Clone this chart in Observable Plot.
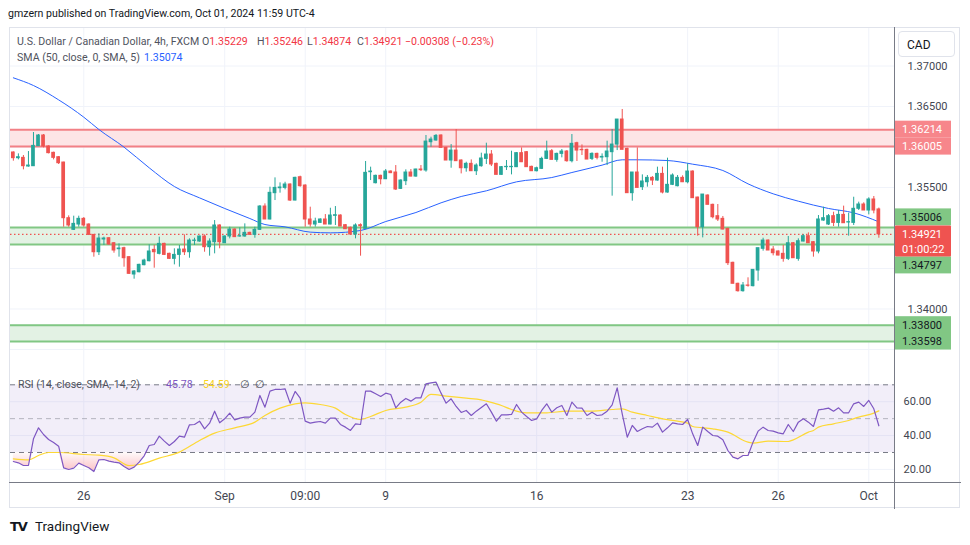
<!DOCTYPE html>
<html><head><meta charset="utf-8">
<script src="https://cdn.jsdelivr.net/npm/d3@7"></script>
<script src="https://cdn.jsdelivr.net/npm/@observablehq/plot@0.6"></script>
<style>
body{margin:0;background:#fff;}
#root{position:relative;width:970px;height:545px;overflow:hidden;font-family:Roboto,"Noto Sans",sans-serif;color:#131722;background:#fff;}
.abs{position:absolute;white-space:nowrap;line-height:1;}
#root svg{position:absolute;left:0;}
</style></head><body><div id="root"></div>
<script>
// ---------- DATA (USD/CAD 4h, FXCM) ----------
const open = [
1.35932,1.35862,1.35866,1.35759,1.35763,1.36010,1.36142,1.36006,1.35928,1.35874,
1.35808,1.35121,1.34977,1.35043,1.35113,1.35043,1.34915,1.34701,1.34858,1.34874,
1.34812,1.34738,1.34751,1.34640,1.34426,1.34454,1.34541,1.34590,1.34730,1.34681,
1.34804,1.34681,1.34619,1.34668,1.34734,1.34701,1.34841,1.34833,1.34895,1.34763,
1.34825,1.35031,1.34812,1.34895,1.34981,1.34895,1.34895,1.34940,1.34915,1.34977,
1.35265,1.35105,1.35430,1.35491,1.35495,1.35537,1.35339,1.35627,1.35524,1.35105,
1.35043,1.35063,1.35105,1.35043,1.35150,1.35154,1.35035,1.35002,1.34919,1.35035,
1.34989,1.35689,1.35553,1.35644,1.35602,1.35697,1.35685,1.35483,1.35578,1.35685,
1.35635,1.35722,1.35710,1.36059,1.36080,1.36142,1.35989,1.35833,1.35956,1.35833,
1.35738,1.35792,1.35701,1.35763,1.35853,1.35907,1.35792,1.35656,1.35751,1.35751,
1.35751,1.35924,1.35936,1.35755,1.35701,1.35730,1.35853,1.35948,1.35841,1.35915,
1.35944,1.35825,1.36047,1.35965,1.35965,1.35853,1.35915,1.35870,1.35874,1.35936,
1.36030,1.36339,1.35977,1.35430,1.35685,1.35504,1.35565,1.35619,1.35586,1.35668,
1.35438,1.35533,1.35516,1.35619,1.35565,1.35697,1.35376,1.35010,1.35401,1.35286,
1.35146,1.35113,1.34989,1.34570,1.34311,1.34220,1.34290,1.34282,1.34475,1.34743,
1.34845,1.34734,1.34710,1.34681,1.34619,1.34812,1.34619,1.34833,1.34899,1.34825,
1.34710,1.35092,1.35043,1.35146,1.35063,1.35162,1.35068,1.35063,1.35237,1.35290,
1.35216,1.35352,1.35229];
const high = [
1.35940,1.35915,1.35895,1.35944,1.36179,1.36154,1.36154,1.36014,1.35936,1.35882,
1.35812,1.35150,1.35146,1.35146,1.35129,1.35051,1.34919,1.34928,1.34887,1.34882,
1.34821,1.34804,1.34763,1.34648,1.34475,1.34553,1.34615,1.34792,1.34784,1.34887,
1.34812,1.34689,1.34743,1.34784,1.34915,1.34866,1.34874,1.34899,1.34915,1.34866,
1.35092,1.35039,1.34903,1.35010,1.34989,1.35002,1.35051,1.34948,1.35010,1.35277,
1.35298,1.35504,1.35619,1.35557,1.35565,1.35545,1.35627,1.35640,1.35533,1.35257,
1.35121,1.35113,1.35166,1.35244,1.35265,1.35162,1.35043,1.35010,1.35051,1.35051,
1.35821,1.35751,1.35652,1.35652,1.35722,1.35705,1.35771,1.35594,1.35718,1.35722,
1.35726,1.35771,1.36142,1.36121,1.36154,1.36150,1.35997,1.36030,1.36216,1.35841,
1.35812,1.35841,1.35792,1.35924,1.36047,1.35956,1.35800,1.35759,1.35833,1.35948,
1.35932,1.35989,1.35944,1.35763,1.35751,1.35874,1.36072,1.35969,1.35924,1.35969,
1.35956,1.36154,1.36059,1.36026,1.35973,1.35928,1.35924,1.35915,1.36072,1.36216,
1.36339,1.36463,1.35985,1.35685,1.35989,1.35656,1.35648,1.35635,1.35751,1.35751,
1.35862,1.35668,1.35648,1.35644,1.35792,1.35705,1.35380,1.35413,1.35409,1.35294,
1.35290,1.35142,1.34998,1.34578,1.34319,1.34327,1.34385,1.34483,1.34751,1.34874,
1.34854,1.34771,1.34718,1.34784,1.34895,1.34821,1.34866,1.34919,1.34940,1.34833,
1.35154,1.35257,1.35166,1.35195,1.35216,1.35270,1.35183,1.35380,1.35319,1.35311,
1.35373,1.35389,1.35246];
const low = [
1.35825,1.35841,1.35718,1.35751,1.35759,1.36006,1.35989,1.35915,1.35841,1.35784,
1.35010,1.35010,1.34969,1.35010,1.35010,1.34907,1.34640,1.34660,1.34784,1.34788,
1.34689,1.34640,1.34516,1.34426,1.34368,1.34446,1.34533,1.34582,1.34504,1.34668,
1.34660,1.34611,1.34545,1.34516,1.34660,1.34627,1.34784,1.34825,1.34701,1.34652,
1.34681,1.34743,1.34808,1.34866,1.34887,1.34887,1.34887,1.34911,1.34874,1.34969,
1.35105,1.35100,1.35339,1.35430,1.35471,1.35327,1.35335,1.35504,1.35010,1.35010,
1.35010,1.35059,1.35043,1.35039,1.35031,1.35018,1.34981,1.34915,1.34866,1.34652,
1.34981,1.35586,1.35545,1.35533,1.35598,1.35672,1.35463,1.35475,1.35524,1.35631,
1.35627,1.35697,1.35689,1.35997,1.36072,1.35989,1.35833,1.35738,1.35825,1.35668,
1.35689,1.35701,1.35648,1.35751,1.35784,1.35759,1.35656,1.35652,1.35710,1.35656,
1.35746,1.35808,1.35751,1.35701,1.35693,1.35722,1.35845,1.35841,1.35812,1.35866,
1.35812,1.35804,1.35821,1.35895,1.35845,1.35833,1.35841,1.35812,1.35771,1.35393,
1.35956,1.35965,1.35430,1.35331,1.35495,1.35463,1.35504,1.35524,1.35578,1.35421,
1.35430,1.35524,1.35508,1.35561,1.35545,1.35368,1.34899,1.34878,1.35286,1.35113,
1.35080,1.34977,1.34537,1.34311,1.34208,1.34208,1.34269,1.34273,1.34343,1.34714,
1.34722,1.34656,1.34656,1.34578,1.34598,1.34627,1.34590,1.34829,1.34812,1.34640,
1.34681,1.35084,1.35031,1.35018,1.35010,1.35059,1.34899,1.35031,1.35216,1.35216,
1.35162,1.35175,1.34874];
const close = [
1.35862,1.35874,1.35763,1.35771,1.36014,1.36142,1.36006,1.35924,1.35866,1.35800,
1.35121,1.35031,1.35051,1.35113,1.35031,1.34915,1.34701,1.34870,1.34870,1.34796,
1.34722,1.34747,1.34627,1.34434,1.34463,1.34545,1.34598,1.34710,1.34701,1.34804,
1.34668,1.34619,1.34668,1.34734,1.34701,1.34845,1.34845,1.34895,1.34763,1.34833,
1.35031,1.34825,1.34895,1.34981,1.34887,1.34899,1.34940,1.34915,1.34977,1.35265,
1.35105,1.35434,1.35495,1.35500,1.35537,1.35339,1.35619,1.35516,1.35105,1.35043,
1.35080,1.35105,1.35043,1.35154,1.35158,1.35018,1.34985,1.34919,1.35031,1.35022,
1.35681,1.35697,1.35644,1.35602,1.35697,1.35677,1.35475,1.35586,1.35685,1.35635,
1.35722,1.35714,1.36067,1.36092,1.36137,1.35989,1.35833,1.35956,1.35825,1.35738,
1.35792,1.35701,1.35771,1.35858,1.35907,1.35784,1.35656,1.35751,1.35755,1.35755,
1.35924,1.35812,1.35751,1.35701,1.35738,1.35853,1.35944,1.35841,1.35915,1.35944,
1.35825,1.36039,1.35956,1.35960,1.35845,1.35915,1.35866,1.35878,1.35944,1.36030,
1.36339,1.35965,1.35430,1.35685,1.35495,1.35574,1.35619,1.35586,1.35668,1.35438,
1.35533,1.35648,1.35619,1.35565,1.35697,1.35368,1.35010,1.35413,1.35286,1.35133,
1.35105,1.34981,1.34566,1.34311,1.34220,1.34290,1.34286,1.34483,1.34751,1.34845,
1.34722,1.34689,1.34660,1.34619,1.34812,1.34627,1.34837,1.34899,1.34812,1.34710,
1.35105,1.35121,1.35146,1.35063,1.35162,1.35059,1.35072,1.35237,1.35290,1.35216,
1.35352,1.35216,1.34921];

// SMA(50) sampled along the bars
const smaIdx = [0,4,9,14,17,22,27,32,37,42,47,50,54,59,63,69,74,80,85,89,94,100,107,111,117,121,124,130,135,141,146,151,156,162,167,172];
const smaVal = [1.36854,1.36759,1.36582,1.36368,1.36216,1.35998,1.35743,1.35512,1.35372,1.35241,1.35117,1.35043,1.35014,1.34949,1.34940,1.34969,1.35080,1.35191,1.35311,1.35389,1.35459,1.35570,1.35623,1.35685,1.35776,1.35842,1.35842,1.35833,1.35788,1.35710,1.35545,1.35422,1.35331,1.35241,1.35187,1.35076];

// RSI(14)
const rsi = [
24.68,23.89,22.32,22.32,38.08,44.58,40.64,37.69,35.91,33.74,
20.94,19.95,20.74,23.70,22.32,20.94,18.77,25.67,25.86,24.88,
24.29,23.89,21.73,19.95,21.33,24.29,28.03,34.14,34.73,39.66,
36.70,34.14,36.50,39.66,39.06,46.36,46.55,48.52,43.99,47.34,
54.43,47.54,49.90,53.25,49.31,50.30,50.89,50.89,53.84,63.69,
56.80,66.26,67.24,67.24,67.64,59.16,66.06,62.12,48.52,47.34,
47.93,48.33,47.34,50.30,50.30,46.55,44.98,43.01,46.95,46.55,
66.26,66.26,64.68,63.10,65.07,64.29,56.40,59.75,61.92,60.35,
62.32,62.32,70.59,71.18,71.58,65.07,59.16,61.72,57.19,53.65,
54.83,51.87,54.43,56.60,58.77,53.84,48.52,52.27,52.27,52.46,
58.37,53.84,51.28,48.92,49.90,54.83,58.77,53.84,56.40,57.78,
51.87,59.75,56.40,56.21,51.87,53.84,51.87,52.27,54.43,58.18,
68.23,52.86,39.06,45.96,42.41,43.99,45.37,44.98,47.34,42.02,
44.58,47.54,46.95,46.55,49.51,41.03,34.14,44.98,42.41,40.05,
39.66,37.49,31.18,27.24,26.26,28.23,28.23,36.11,42.61,44.98,
43.01,42.61,41.63,41.03,46.55,42.41,47.93,49.90,47.93,45.37,
55.22,55.62,56.21,54.43,56.40,53.45,53.45,58.77,59.75,57.19,
60.74,55.81,45.78];
// RSI-based SMA(14), sampled
const rsiMaIdx = [0,3,5,7,9,14,17,20,23,25,29,33,37,40,44,48,50,53,56,58,61,64,66,69,71,74,78,81,83,86,90,93,94,97,99,102,106,110,115,119,121,123,126,129,132,134,135,139,142,146,147,150,154,155,158,159,160,163,166,168,171,172];
const rsiMaVal = [26.26,25.67,28.23,30.0,30.0,28.82,28.43,26.85,22.32,22.91,26.65,30.20,37.10,41.43,44.58,47.93,51.87,56.21,58.77,59.36,58.37,56.21,52.46,49.51,51.28,54.83,56.80,59.75,64.29,63.30,62.12,61.13,60.35,57.78,55.42,53.45,53.45,54.43,54.43,55.42,55.81,53.84,51.87,49.90,48.52,47.34,45.37,43.99,42.02,36.11,35.52,36.70,36.50,37.49,42.02,43.01,44.98,46.95,48.92,50.89,53.25,54.59];

// Zones (drawn rectangles)
const zoneHi = [1.36214, 1.35006, 1.33800];
const zoneLo = [1.36005, 1.34797, 1.33598];
const zoneKind = ["red", "green", "green"];

// Axis ticks / labels
const priceGrid = [1.370, 1.365, 1.360, 1.355, 1.350, 1.345, 1.340, 1.335];
const priceLabels = [1.370, 1.365, 1.355, 1.340];   // the others sit under the price tags
const rsiTicks = [20, 40, 60];
const timeTickIdx = [14, 42, 58, 74, 104, 134, 152, 170];
const timeTickLabel = ["26", "Sep", "09:00", "9", "16", "23", "26", "Oct"];
const lastClose = 1.34921, countdown = "01:00:22";

// ---------- BUILD ----------
const root = document.getElementById("root");
const UP = "#26a69a", DN = "#ef5350";
const ZC = {red: {line: "#f28086", fill: "#fde5e6", tag: "#f7868b", txt: "#ffffff"},
            green: {line: "#81c784", fill: "#e3f2e4", tag: "#81c784", txt: "#131722"}};
const candles = open.map((o, i) => ({i, o, h: high[i], l: low[i], c: close[i], col: close[i] >= o ? UP : DN}));
const sma = smaIdx.map((i, k) => ({i, v: smaVal[k]}));
const rsiData = rsi.map((v, i) => ({i, v}));
const rsiMa = rsiMaIdx.map((i, k) => ({i, v: rsiMaVal[k]}));
const zones = zoneHi.map((hi, k) => ({hi, lo: zoneLo[k], ...ZC[zoneKind[k]]}));
const zoneLines = zones.flatMap(z => [{v: z.hi, c: z.line}, {v: z.lo, c: z.line}]);
const tickName = new Map(timeTickIdx.map((d, k) => [d, timeTickLabel[k]]));

const xDomain = [-0.566, 175.11];
const GRID = "#f0f3fa";
const FONT = "Roboto, 'Noto Sans', sans-serif";

const pricePlot = Plot.plot({
  width: 970, height: 342, marginLeft: 10, marginRight: 76, marginTop: 0, marginBottom: 0,
  style: {background: "transparent", fontFamily: FONT, fontSize: "11px", color: "#434651"},
  x: {domain: xDomain, axis: null},
  y: {domain: [1.332407, 1.37463]},
  color: {type: "identity"},
  marks: [
    Plot.gridX(timeTickIdx, {stroke: GRID, strokeOpacity: 1}),
    Plot.gridY(priceGrid, {stroke: GRID, strokeOpacity: 1}),
    Plot.rect(zones, {y1: "lo", y2: "hi", fill: "fill"}),
    Plot.ruleY(zoneLines, {y: "v", stroke: "c", strokeWidth: 2}),
    Plot.ruleY([lastClose], {stroke: DN, strokeWidth: 1.2, strokeDasharray: "1.5,2.5"}),
    Plot.line(sma, {x: "i", y: "v", stroke: "#2962ff", strokeWidth: 1, curve: "monotone-x"}),
    Plot.ruleX(candles, {x: "i", y1: "l", y2: "h", stroke: "col", strokeWidth: 1}),
    Plot.rect(candles, {x1: d => d.i - 0.37, x2: d => d.i + 0.37, y1: "o", y2: "c", fill: "col", insetTop: -0.5, insetBottom: -0.5}),
    Plot.axisY(priceLabels, {anchor: "right", tickSize: 0, tickPadding: 13, tickFormat: d3.format(".5f"), label: null})
  ]
});
pricePlot.style.top = "28px";
root.appendChild(pricePlot);

// Price tags on the axis (positioned with the y scale)
{
  const ys = pricePlot.scale("y");
  const svg = d3.select(pricePlot);
  const g = svg.append("g").attr("font-family", FONT).attr("font-size", 11).attr("text-anchor", "start");
  const yc = ys.apply(lastClose);
  const lastTop = yc - 8.5, lastBot = yc + 22.5;
  const tags = [];
  zones.forEach(z => { tags.push({v: z.hi, bg: z.tag, fg: z.txt}); tags.push({v: z.lo, bg: z.tag, fg: z.txt}); });
  tags.forEach(t => {
    const y = ys.apply(t.v);
    let top = y - 8.5;
    if (top < lastBot && top + 17 > lastTop) top = (y < yc) ? lastTop - 17 : lastBot;
    g.append("rect").attr("x", 895).attr("y", top).attr("width", 56).attr("height", 17).attr("fill", t.bg);
    g.append("text").attr("x", 902).attr("y", top + 8.5).attr("dy", "0.35em").attr("fill", t.fg).text(d3.format(".5f")(t.v));
  });
  g.append("rect").attr("x", 895).attr("y", lastTop).attr("width", 56).attr("height", lastBot - lastTop).attr("fill", DN).attr("rx", 1);
  g.append("text").attr("x", 902).attr("y", yc).attr("dy", "0.35em").attr("fill", "#fff").text(d3.format(".5f")(lastClose));
  g.append("text").attr("x", 902).attr("y", yc + 15).attr("dy", "0.35em").attr("fill", "#fff").text(countdown);
}

const rsiPlot = Plot.plot({
  width: 970, height: 139, marginLeft: 10, marginRight: 76, marginTop: 0, marginBottom: 27,
  style: {background: "transparent", fontFamily: FONT, fontSize: "11px", color: "#434651"},
  x: {domain: xDomain, axis: null},
  y: {domain: [12.27, 78.45]},
  marks: [
    Plot.gridX(timeTickIdx, {stroke: GRID, strokeOpacity: 1}),
    Plot.gridY(rsiTicks, {stroke: GRID, strokeOpacity: 1}),
    Plot.rect([0], {y1: 30, y2: 70, fill: "#7e57c2", fillOpacity: 0.1}),
    Plot.ruleY([70, 30], {stroke: "#787b86", strokeDasharray: "5,4"}),
    Plot.ruleY([50], {stroke: "#787b86", strokeOpacity: 0.5, strokeDasharray: "5,4"}),
    Plot.areaY(rsiData, {x: "i", y1: d => Math.min(d.v, 30), y2: 30, fill: "url(#osGrad)"}),
    Plot.areaY(rsiData, {x: "i", y1: 70, y2: d => Math.max(d.v, 70), fill: "url(#obGrad)"}),
    Plot.line(rsiMa, {x: "i", y: "v", stroke: "#fdd835", strokeWidth: 1.2, curve: "monotone-x"}),
    Plot.line(rsiData, {x: "i", y: "v", stroke: "#7e57c2", strokeWidth: 1.2}),
    Plot.axisY(rsiTicks, {anchor: "right", tickSize: 0, tickPadding: 9, tickFormat: d3.format(".2f"), label: null}),
    Plot.axisX(timeTickIdx, {anchor: "bottom", tickSize: 0, tickPadding: 9, tickFormat: d => tickName.get(d), label: null, fontSize: 12})
  ]
});
rsiPlot.style.top = "370px";
root.appendChild(rsiPlot);
{
  const ys = rsiPlot.scale("y");
  const defs = d3.select(rsiPlot).insert("defs", ":first-child");
  const os = defs.append("linearGradient").attr("id", "osGrad").attr("gradientUnits", "userSpaceOnUse")
    .attr("x1", 0).attr("x2", 0).attr("y1", ys.apply(30)).attr("y2", ys.apply(17));
  os.append("stop").attr("offset", 0).attr("stop-color", "#f23645").attr("stop-opacity", 0.02);
  os.append("stop").attr("offset", 1).attr("stop-color", "#f23645").attr("stop-opacity", 0.35);
  const ob = defs.append("linearGradient").attr("id", "obGrad").attr("gradientUnits", "userSpaceOnUse")
    .attr("x1", 0).attr("x2", 0).attr("y1", ys.apply(70)).attr("y2", ys.apply(80));
  ob.append("stop").attr("offset", 0).attr("stop-color", "#089981").attr("stop-opacity", 0.05);
  ob.append("stop").attr("offset", 1).attr("stop-color", "#089981").attr("stop-opacity", 0.4);
}

// ---------- FRAME & TEXT ----------
function div(css, html) { const d = document.createElement("div"); d.className = "abs"; d.style.cssText = css; if (html) d.innerHTML = html; root.appendChild(d); return d; }
div("left:9px;top:27px;width:951px;height:481px;border:1px solid #e0e3eb;box-sizing:border-box;");
div("left:894px;top:27px;width:1px;height:482px;background:#787b86;");
div("left:9px;top:482px;width:952px;height:1px;background:#787b86;");
div("left:898px;top:31px;width:57px;height:26px;border:1px solid #e0e3eb;border-radius:4px;box-sizing:border-box;background:#fff;");
div("left:907px;top:39px;font-size:12px;color:#131722;", "CAD");

div("left:8px;top:9px;font-size:10.6px;color:#131722;", "gmzern published on TradingView.com, Oct 01, 2024 11:59 UTC-4");
const G = "#50535e", R = "#f23645", FS = "font-size:10.6px;";
div("left:17px;top:37px;" + FS + "color:" + G + ";", "U.S. Dollar / Canadian Dollar, 4h, FXCM");
div("left:202px;top:37px;" + FS + "color:" + G + ";", "O<span style='color:" + R + "'>1.35229</span>");
div("left:257px;top:37px;" + FS + "color:" + G + ";", "H<span style='color:" + R + "'>1.35246</span>");
div("left:307px;top:37px;" + FS + "color:" + G + ";", "L<span style='color:" + R + "'>1.34874</span>");
div("left:357px;top:37px;" + FS + "color:" + G + ";", "C<span style='color:" + R + "'>1.34921</span>");
div("left:405px;top:37px;" + FS + "color:" + R + ";", "−0.00308 (−0.23%)");
div("left:17px;top:53px;" + FS + "color:" + G + ";", "SMA (50, close, 0, SMA, 5)");
div("left:144px;top:53px;" + FS + "color:#2962ff;", "1.35074");

div("left:18px;top:380px;" + FS + "color:" + G + ";", "RSI (14, close, SMA, 14, 2)");
div("left:166px;top:380px;" + FS + "color:#7e57c2;", "45.78");
div("left:203px;top:380px;" + FS + "color:#f7d21e;", "54.59");
div("left:240px;top:380px;" + FS + "color:" + G + ";", "∅&nbsp;&nbsp;∅");

div("left:10px;top:520px;font-size:13px;font-weight:900;color:#131722;letter-spacing:-1px;font-family:'DejaVu Sans';", "TV");
div("left:35px;top:520px;font-size:13.5px;color:#131722;", "TradingView");
</script></body></html>
